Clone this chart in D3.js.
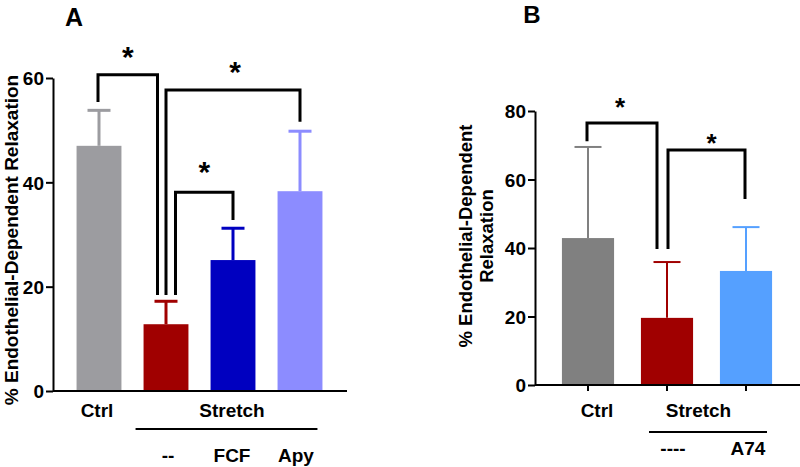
<!DOCTYPE html>
<html><head><meta charset="utf-8">
<script src="https://cdn.jsdelivr.net/npm/d3@7"></script>
<style>
body{margin:0;background:#fff}
svg{display:block}
text{font-family:"Liberation Sans",Arial,sans-serif;font-weight:bold;fill:#000}
</style>
</head><body>
<svg id="c" width="800" height="467"></svg>
<script>
// ---------- Panel A data ----------
const groupsA = ["Ctrl", "Stretch", "FCF", "Apy"];
const meansA = [47.0, 12.8, 25.1, 38.3];
const errA = [6.8, 4.4, 6.1, 11.5];
const colorsA = ["#9c9ca0", "#a00000", "#0000c0", "#8c8cff"];
const ticksA = [0, 20, 40, 60];
// significance brackets: group index pairs, bracket height and end heights (data units)
const bracketFromA = [0, 1, 1];
const bracketToA = [1, 3, 2];
const bracketLevelA = [60.6, 57.7, 38.1];
const bracketEndFromA = [55.4, 18.4, 18.4];
const bracketEndToA = [18.4, 51.6, 32.8];

// ---------- Panel B data ----------
const groupsB = ["Ctrl", "Stretch", "A74"];
const meansB = [42.9, 19.6, 33.3];
const errB = [26.6, 16.3, 12.8];
const colorsB = ["#808080", "#a00000", "#55a0ff"];
const ticksB = [0, 20, 40, 60, 80];
const bracketFromB = [0, 1];
const bracketToB = [1, 2];
const bracketLevelB = [76.5, 68.6];
const bracketEndFromB = [71.2, 39.7];
const bracketEndToB = [39.7, 54.3];

const svg = d3.select("#c");

function drawPanel(o) {
  const g = svg.append("g");
  const y = d3.scaleLinear().domain([0, o.ticks[o.ticks.length - 1]]).range(o.yRange);
  const x = d3.scaleBand().domain(o.groups.map((d, i) => i)).range(o.xRange)
    .paddingInner(o.pad).paddingOuter(o.pad / 2);
  const bw = x.bandwidth();
  const cx = i => x(i) + bw / 2;

  g.selectAll("rect.bar").data(o.means).enter().append("rect")
    .attr("x", (d, i) => x(i)).attr("width", bw)
    .attr("y", d => y(d)).attr("height", d => y(0) - y(d))
    .attr("fill", (d, i) => o.colors[i]);

  o.means.forEach((m, i) => {
    g.append("line").attr("x1", cx(i)).attr("x2", cx(i))
      .attr("y1", y(m)).attr("y2", y(m + o.err[i]))
      .attr("stroke", o.colors[i]).attr("stroke-width", o.errW);
    g.append("line").attr("x1", cx(i) - o.cap / 2).attr("x2", cx(i) + o.cap / 2)
      .attr("y1", y(m + o.err[i])).attr("y2", y(m + o.err[i]))
      .attr("stroke", o.colors[i]).attr("stroke-width", o.errW);
  });

  const ax = g.append("g").attr("transform", `translate(${o.axisX},0)`)
    .call(d3.axisLeft(y).tickValues(o.ticks).tickSize(7).tickSizeOuter(0).tickPadding(2));
  ax.select(".domain").attr("stroke", "#000").attr("stroke-width", 2);
  ax.selectAll(".tick line").attr("stroke", "#000").attr("stroke-width", 2);
  ax.selectAll(".tick text").style("font-size", o.tickFont + "px")
    .style("font-family", '"Liberation Sans",Arial,sans-serif').style("font-weight", "bold")
    .attr("fill", "#000").attr("dy", "0.36em");

  g.append("line").attr("x1", o.axisX).attr("x2", o.axisEnd)
    .attr("y1", y(0)).attr("y2", y(0)).attr("stroke", "#000").attr("stroke-width", 2);
  if (o.xTicks) {
    o.groups.forEach((d, i) => {
      g.append("line").attr("x1", cx(i)).attr("x2", cx(i))
        .attr("y1", y(0)).attr("y2", y(0) + 6).attr("stroke", "#000").attr("stroke-width", 2);
    });
  }

  o.bFrom.forEach((f, k) => {
    const t = o.bTo[k];
    const x1 = cx(f) + o.bOffFrom[k], x2 = cx(t) + o.bOffTo[k];
    const pts = [[x1, y(o.bEndFrom[k])], [x1, y(o.bLevel[k])], [x2, y(o.bLevel[k])], [x2, y(o.bEndTo[k])]];
    g.append("path").attr("d", d3.line()(pts)).attr("fill", "none")
      .attr("stroke", "#000").attr("stroke-width", 3).attr("stroke-linejoin", "miter");
    g.append("text").attr("x", (x1 + x2) / 2 + o.starDx[k]).attr("y", y(o.bLevel[k]) - o.starGap[k])
      .attr("text-anchor", "middle").style("font-size", o.starFont + "px").text("*");
  });
  return {x, y, cx};
}

const A = drawPanel({
  groups: groupsA, means: meansA, err: errA, colors: colorsA, ticks: ticksA,
  yRange: [391, 78], xRange: [65.5, 333.5], pad: 0.33, axisX: 53, axisEnd: 347,
  cap: 23, errW: 3, tickFont: 19, xTicks: false,
  bFrom: bracketFromA, bTo: bracketToA, bLevel: bracketLevelA, bEndFrom: bracketEndFromA, bEndTo: bracketEndToA,
  bOffFrom: [-1, 0, 9.5], bOffTo: [-8.5, 0, 0], starDx: [0, 2, 0], starGap: [8, 8, 10], starFont: 30
});

const B = drawPanel({
  groups: groupsB, means: meansB, err: errB, colors: colorsB, ticks: ticksB,
  yRange: [385, 111], xRange: [548.5, 785.5], pad: 0.34, axisX: 535, axisEnd: 800,
  cap: 27, errW: 2, tickFont: 19, xTicks: true,
  bFrom: bracketFromB, bTo: bracketToB, bLevel: bracketLevelB, bEndFrom: bracketEndFromB, bEndTo: bracketEndToB,
  bOffFrom: [-1, 1, 0], bOffTo: [-10, -1], starDx: [-2, 5], starGap: [7, -2], starFont: 26
});

svg.append("text").attr("x", 74).attr("y", 26).attr("text-anchor", "middle").style("font-size", "25px").text("A");
svg.append("text").attr("x", 532).attr("y", 23).attr("text-anchor", "middle").style("font-size", "24px").text("B");

const fs = "19px";
svg.append("text").attr("x", A.cx(0) - 2).attr("y", 417).attr("text-anchor", "middle").style("font-size", fs).text(groupsA[0]);
svg.append("text").attr("x", A.cx(2) - 1).attr("y", 417).attr("text-anchor", "middle").style("font-size", fs).text("Stretch");
svg.append("line").attr("x1", A.x(1) - 8).attr("x2", A.x(3) + A.x.bandwidth() - 5).attr("y1", 429).attr("y2", 429)
  .attr("stroke", "#000").attr("stroke-width", 2);
svg.append("text").attr("x", A.cx(1) + 2).attr("y", 462).attr("text-anchor", "middle").style("font-size", fs).text("--");
svg.append("text").attr("x", A.cx(2) - 1).attr("y", 462).attr("text-anchor", "middle").style("font-size", fs).text(groupsA[2]);
svg.append("text").attr("x", A.cx(3) - 4).attr("y", 462).attr("text-anchor", "middle").style("font-size", fs).text(groupsA[3]);

svg.append("text").attr("x", B.cx(0) + 9).attr("y", 417).attr("text-anchor", "middle").style("font-size", fs).text(groupsB[0]);
svg.append("text").attr("x", (B.cx(1) + B.cx(2)) / 2 - 8).attr("y", 417).attr("text-anchor", "middle").style("font-size", fs).text(groupsB[1]);
svg.append("line").attr("x1", 649).attr("x2", 767).attr("y1", 432).attr("y2", 432).attr("stroke", "#000").attr("stroke-width", 2);
svg.append("text").attr("x", B.cx(1) + 6).attr("y", 455).attr("text-anchor", "middle").style("font-size", fs).text("----");
svg.append("text").attr("x", B.cx(2) + 2).attr("y", 455).attr("text-anchor", "middle").style("font-size", fs).text(groupsB[2]);

svg.append("text").attr("transform", "translate(18,240) rotate(-90)").attr("text-anchor", "middle")
  .style("font-size", "19px").text("% Endothelial-Dependent Relaxation");
const tb = svg.append("text").attr("transform", "translate(472,236) rotate(-90)").attr("text-anchor", "middle")
  .style("font-size", "18.5px");
tb.append("tspan").attr("x", 0).attr("dy", 0).text("% Endothelial-Dependent");
tb.append("tspan").attr("x", 0).attr("dy", 21).text("Relaxation");
</script>
</body></html>
